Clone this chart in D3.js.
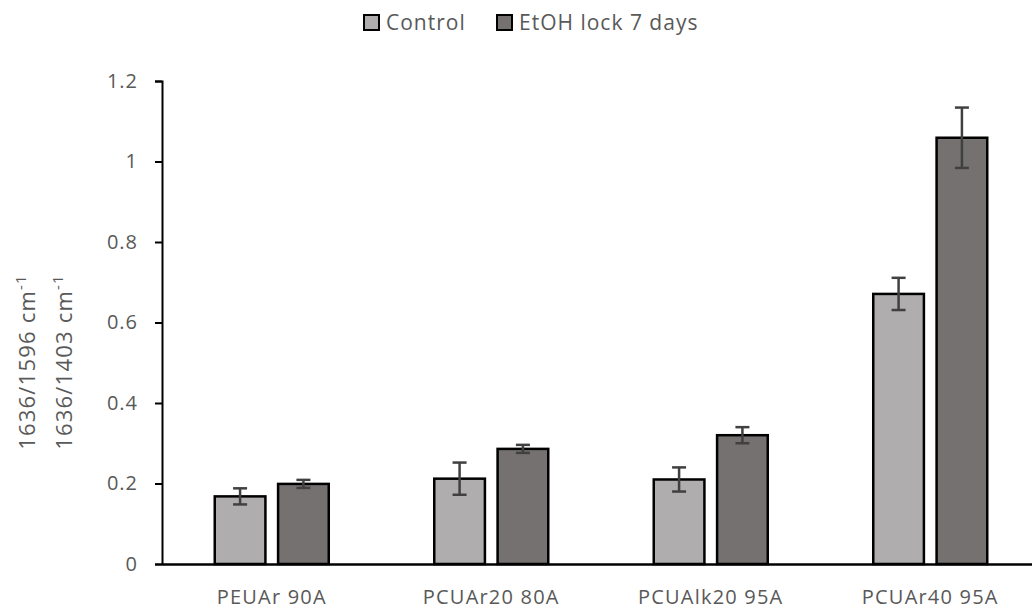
<!DOCTYPE html>
<html>
<head>
<meta charset="utf-8">
<script src="https://cdn.jsdelivr.net/npm/d3@7"></script>
<style>
  body { margin: 0; background: #fff; }
  svg text { font-family: "Open Sans", sans-serif; fill: #595959; letter-spacing: 1px; }
</style>
</head>
<body>
<div class="canvas"></div>
<script>
const categories = ['PEUAr 90A', 'PCUAr20 80A', 'PCUAlk20 95A', 'PCUAr40 95A'];
const seriesNames = ['Control', 'EtOH lock 7 days'];
const controlValues = [0.168, 0.212, 0.21, 0.671];
const controlErrors = [0.02, 0.04, 0.03, 0.04];
const etohValues = [0.199, 0.286, 0.32, 1.059];
const etohErrors = [0.01, 0.01, 0.02, 0.075];
const yTicks = [0, 0.2, 0.4, 0.6, 0.8, 1, 1.2];

const colors = ['#afadad', '#757171'];

const svgDims = { width: 1032, height: 610 };
const margin = { top: 81, right: -8, bottom: 46, left: 162 };
const graphWidth = svgDims.width - margin.left - margin.right;
const graphHeight = svgDims.height - margin.top - margin.bottom;

const svg = d3.select('.canvas')
    .append('svg')
    .attr('width', svgDims.width)
    .attr('height', svgDims.height);

const graph = svg.append('g')
    .attr('transform', `translate(${margin.left}, ${margin.top})`);

const x = d3.scaleBand()
    .domain(categories)
    .range([0, graphWidth]);

const x1 = d3.scaleBand()
    .domain(seriesNames)
    .range([x.bandwidth() / 2 - 57, x.bandwidth() / 2 + 57])
    .paddingInner(0.2);

const y = d3.scaleLinear()
    .domain([0, 1.2])
    .range([graphHeight, 0]);

// y axis
const yAxis = d3.axisLeft(y)
    .tickValues(yTicks)
    .tickSize(7)
    .tickFormat(d => d);
const yAxisGroup = graph.append('g').call(yAxis);
yAxisGroup.select('.domain').attr('stroke', '#000').attr('stroke-width', 2);
yAxisGroup.selectAll('.tick line').attr('stroke', '#000').attr('stroke-width', 2);
yAxisGroup.selectAll('.tick text')
    .attr('x', -24)
    .style('font-size', '20px');

// bars
const rows = categories.map((c, i) => ({
    cat: c,
    vals: [
        { s: seriesNames[0], v: controlValues[i], e: controlErrors[i], c: colors[0] },
        { s: seriesNames[1], v: etohValues[i], e: etohErrors[i], c: colors[1] }
    ]
}));

const groups = graph.selectAll('g.grp')
    .data(rows)
    .enter()
    .append('g')
    .attr('class', 'grp')
    .attr('transform', d => `translate(${x(d.cat)}, 0)`);

groups.selectAll('rect')
    .data(d => d.vals)
    .enter()
    .append('rect')
    .attr('x', d => x1(d.s))
    .attr('y', d => y(d.v))
    .attr('width', x1.bandwidth())
    .attr('height', d => graphHeight - y(d.v))
    .attr('fill', d => d.c)
    .attr('stroke', '#000')
    .attr('stroke-width', 2.5);

// error bars
const err = groups.selectAll('g.err')
    .data(d => d.vals)
    .enter()
    .append('g')
    .attr('class', 'err')
    .attr('stroke', '#404040')
    .attr('stroke-width', 2.5);
err.append('line')
    .attr('x1', d => x1(d.s) + x1.bandwidth() / 2)
    .attr('x2', d => x1(d.s) + x1.bandwidth() / 2)
    .attr('y1', d => y(d.v + d.e))
    .attr('y2', d => y(d.v - d.e));
[1, -1].forEach(sign => {
    err.append('line')
        .attr('x1', d => x1(d.s) + x1.bandwidth() / 2 - 7)
        .attr('x2', d => x1(d.s) + x1.bandwidth() / 2 + 7)
        .attr('y1', d => y(d.v + sign * d.e))
        .attr('y2', d => y(d.v + sign * d.e));
});

// x axis
const xAxis = d3.axisBottom(x).tickSize(0);
const xAxisGroup = graph.append('g')
    .attr('transform', `translate(0, ${graphHeight})`)
    .call(xAxis);
xAxisGroup.select('.domain').attr('stroke', '#000').attr('stroke-width', 2.5);
xAxisGroup.selectAll('.tick text')
    .attr('y', 26)
    .style('font-size', '20px')
    .style('letter-spacing', '1.2px');

// y label
const yLabel = svg.append('text')
    .attr('transform', 'translate(0, 362) rotate(-90)')
    .attr('text-anchor', 'middle')
    .style('font-size', '22px')
    .style('letter-spacing', '1.2px');
[['1636/1596 cm', 35], ['1636/1403 cm', 72]].forEach(([t, dy]) => {
    const line = yLabel.append('tspan').attr('x', 0).attr('y', dy);
    line.append('tspan').text(t);
    line.append('tspan').attr('dy', -9).style('font-size', '15px').text('-1');
});

// legend
const legend = svg.append('g');
const legendItems = [
    { name: seriesNames[0], c: colors[0], x: 364 },
    { name: seriesNames[1], c: colors[1], x: 497 }
];
legendItems.forEach(d => {
    legend.append('rect')
        .attr('x', d.x)
        .attr('y', 15)
        .attr('width', 15)
        .attr('height', 15)
        .attr('fill', d.c)
        .attr('stroke', '#000')
        .attr('stroke-width', 2);
    legend.append('text')
        .attr('x', d.x + 22)
        .attr('y', 30)
        .style('font-size', '21px')
        .text(d.name);
});
</script>
</body>
</html>
